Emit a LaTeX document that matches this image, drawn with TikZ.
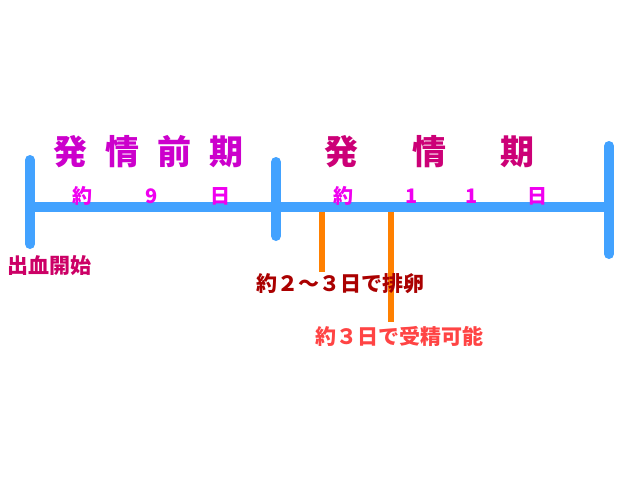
\documentclass[tikz,border=0pt]{standalone}
\usepackage{fontspec}
\newfontfamily\cjk{Noto Sans CJK JP}
\definecolor{barblue}{HTML}{42A2FF}
\definecolor{markorange}{HTML}{FF8000}
\definecolor{titleviolet}{HTML}{CC00CC}
\definecolor{titlerose}{HTML}{CC0077}
\definecolor{daymag}{HTML}{F000F0}
\definecolor{bleedpink}{HTML}{CC0066}
\definecolor{ovured}{HTML}{AA0000}
\definecolor{fertred}{HTML}{FF4444}
\tikzset{
  bar/.style={draw=barblue,line width=10pt,line cap=round},
  markline/.style={draw=markorange,line width=6pt},
  title/.style={inner sep=0pt,font=\cjk\bfseries\fontsize{34}{34}\selectfont},
  day/.style={inner sep=0pt,text=daymag,font=\cjk\bfseries\fontsize{20}{20}\selectfont},
  note/.style={inner sep=0pt,font=\cjk\bfseries\fontsize{21}{21}\selectfont}
}
\begin{document}
\begin{tikzpicture}[x=1pt,y=-1pt]
\useasboundingbox[fill=white] (0,0) rectangle (640,480);
% ovulation and fertility marks
\coordinate (ovutop) at (322,212);
\coordinate (ovubot) at (322,272);
\coordinate (ferttop) at (391,212);
\coordinate (fertbot) at (391,322);
\draw[markline] (ovutop) -- (ovubot);
\draw[markline] (ferttop) -- (fertbot);
% time line
\coordinate (start) at (30,207);
\coordinate (mid) at (276,207);
\coordinate (stop) at (605,207);
\coordinate (starttop) at (30,160);
\coordinate (startbot) at (30,244);
\coordinate (midtop) at (276,162);
\coordinate (midbot) at (276,236);
\coordinate (stoptop) at (609,146);
\coordinate (stopbot) at (609,254);
\draw[bar] (start) -- (stop);
\draw[bar] (starttop) -- (startbot);
\draw[bar] (midtop) -- (midbot);
\draw[bar] (stoptop) -- (stopbot);
% phase titles
\node[title,text=titleviolet] (pro1) at (70,152) {発};
\node[title,text=titleviolet] (pro2) at (122,152) {情};
\node[title,text=titleviolet] (pro3) at (174,152) {前};
\node[title,text=titleviolet] (pro4) at (226,152) {期};
\node[title,text=titlerose] (est1) at (341,152) {発};
\node[title,text=titlerose] (est2) at (429,152) {情};
\node[title,text=titlerose] (est3) at (517,152) {期};
% day counts
\node[day] (proa) at (82,196) {約};
\node[day] (prob) at (152,196) {9};
\node[day] (proc) at (220,196) {日};
\node[day] (esta) at (343,196) {約};
\node[day] (estb) at (412,196) {1};
\node[day] (estc) at (472,196) {1};
\node[day] (estd) at (537,196) {日};
% notes
\node[note,text=bleedpink] (bleed) at (50,266) {出血開始};
\node[note,text=ovured] (ovu) at (340,284) {約２～３日で排卵};
\node[note,text=fertred] (fert) at (399,336) {約３日で受精可能};
\end{tikzpicture}
\end{document}
